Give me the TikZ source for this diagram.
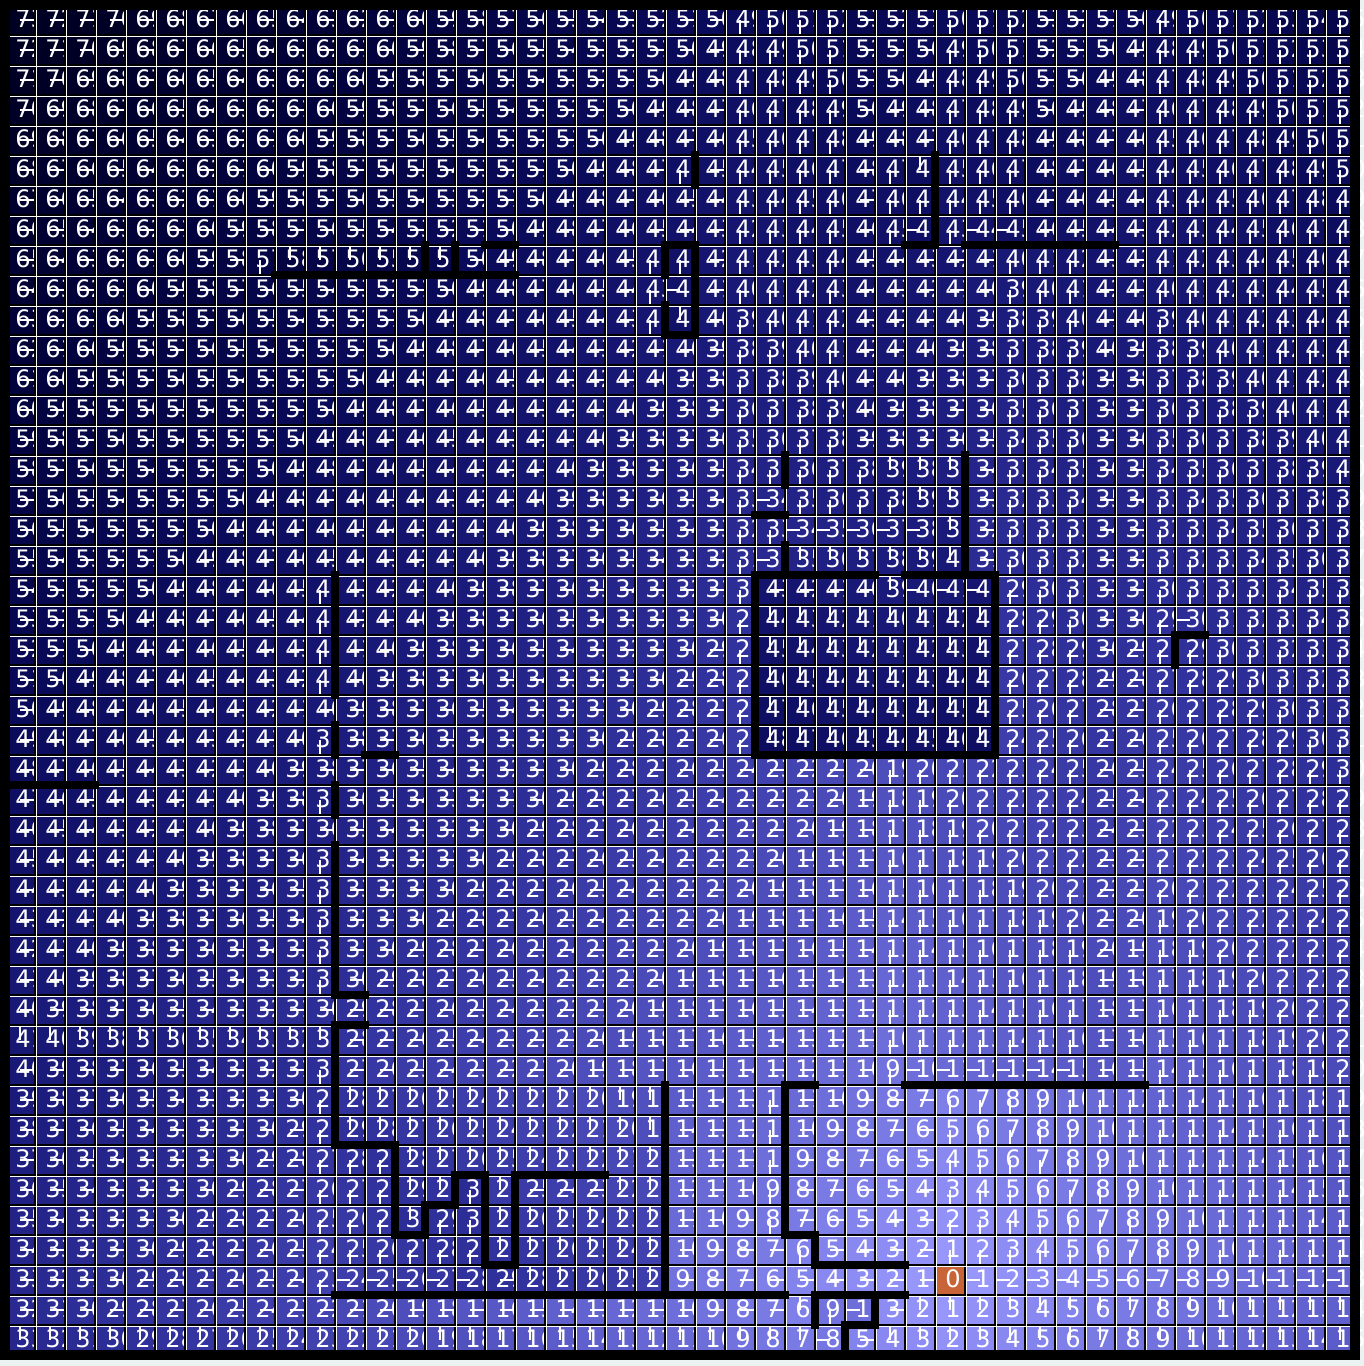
\documentclass[tikz,border=0pt]{standalone}
\usepackage{fontspec}
\setmainfont{DejaVu Sans}
\usepackage{tikz}
\usetikzlibrary{positioning}
\definecolor{goalOrange}{RGB}{200,100,56}
\definecolor{marginGray}{RGB}{236,241,242}
\definecolor{frameBlack}{RGB}{0,0,0}
\tikzset{
  numText/.style={text=white, inner sep=0pt, anchor=base west,
    font=\fontsize{13.7}{15}\selectfont},
  dirLine/.style={white, line width=1.1pt},
  gridLine/.style={frameBlack, line width=1.1pt},
  cellEdge/.style={white, line width=0.4pt},
  mazeWall/.style={frameBlack, line width=4.6pt, line cap=rect},
  outerFrame/.style={frameBlack, line width=5.7pt}
}

% grid walls: \hwall{row line}{from col}{to col}, \vwall{col line}{from row}{to row}
\newcount\wallidx
\def\hwall#1#2#3{\wallidx=#2\relax
  \loop\ifnum\wallidx<#3\relax
    \expandafter\def\csname wS-\the\numexpr#1-1\relax-\the\wallidx\endcsname{}%
    \expandafter\def\csname wN-#1-\the\wallidx\endcsname{}%
    \advance\wallidx by 1
  \repeat}
\def\vwall#1#2#3{\wallidx=#2\relax
  \loop\ifnum\wallidx<#3\relax
    \expandafter\def\csname wE-\the\wallidx-\the\numexpr#1-1\relax\endcsname{}%
    \expandafter\def\csname wW-\the\wallidx-#1\endcsname{}%
    \advance\wallidx by 1
  \repeat}
\def\mazewalls{%
  \hwall{9}{9}{17}\hwall{8}{16}{17}\vwall{14}{8}{9}\vwall{15}{8}{9}%
  \vwall{23}{5}{6}%
  \hwall{8}{22}{23}\hwall{11}{22}{23}\vwall{22}{8}{9}\vwall{22}{10}{11}\vwall{23}{8}{11}%
  \vwall{31}{5}{8}\hwall{8}{30}{31}\hwall{8}{32}{37}%
  \vwall{26}{15}{16}\hwall{17}{25}{26}\vwall{26}{18}{19}\vwall{32}{15}{19}%
  \hwall{19}{25}{29}\hwall{19}{30}{33}\vwall{25}{19}{25}\vwall{33}{19}{25}\hwall{25}{25}{33}%
  \hwall{21}{39}{40}\vwall{39}{21}{22}%
  \hwall{26}{0}{3}%
  \vwall{11}{19}{23}\vwall{11}{24}{25}\vwall{11}{26}{27}\vwall{11}{28}{33}\vwall{11}{34}{38}%
  \hwall{25}{12}{13}\hwall{33}{11}{12}\hwall{34}{11}{12}%
  \hwall{38}{11}{13}\vwall{13}{38}{41}\hwall{41}{13}{14}\vwall{14}{40}{41}\hwall{40}{14}{15}%
  \vwall{15}{39}{40}\hwall{39}{15}{16}\vwall{16}{39}{42}\hwall{42}{16}{17}\vwall{17}{39}{42}%
  \hwall{39}{17}{20}%
  \hwall{43}{11}{26}\vwall{22}{36}{43}%
  \hwall{36}{26}{27}\vwall{26}{36}{41}\hwall{41}{26}{27}\vwall{27}{41}{42}\hwall{42}{27}{30}%
  \hwall{43}{27}{30}\vwall{27}{43}{44}\vwall{29}{43}{44}\hwall{44}{28}{29}\vwall{28}{44}{45}%
  \hwall{36}{30}{38}%
}
\mazewalls

% breadth first search from the goal cell (row 42, col 31)
\newcount\qhead \newcount\qtail
\def\trystep#1#2#3#4#5{%
  \ifcsname w#3-#1-#2\endcsname\else
    \edef\nbr{\the\numexpr#1+#4\relax}%
    \edef\nbc{\the\numexpr#2+#5\relax}%
    \ifnum\nbr<0 \else\ifnum\nbr>44 \else\ifnum\nbc<0 \else\ifnum\nbc>44 \else
      \ifcsname d-\nbr-\nbc\endcsname\else
        \expandafter\edef\csname d-\nbr-\nbc\endcsname{\the\numexpr\curd+1\relax}%
        \expandafter\edef\csname px-\nbr-\nbc\endcsname{\the\numexpr0-15*(#5)\relax}%
        \expandafter\edef\csname py-\nbr-\nbc\endcsname{\the\numexpr0-15*(#4)\relax}%
        \expandafter\edef\csname q\the\qtail\endcsname{{\nbr}{\nbc}}%
        \advance\qtail by 1
      \fi
    \fi\fi\fi\fi
  \fi}
\def\bfsvisit#1#2{%
  \edef\curd{\csname d-#1-#2\endcsname}%
  \trystep{#1}{#2}{E}{0}{1}%
  \trystep{#1}{#2}{N}{-1}{0}%
  \trystep{#1}{#2}{W}{0}{-1}%
  \trystep{#1}{#2}{S}{1}{0}}
\expandafter\def\csname d-42-31\endcsname{0}
\expandafter\def\csname q0\endcsname{{42}{31}}
\qhead=0 \qtail=1
\loop\ifnum\qhead<\qtail
  \expandafter\expandafter\expandafter\bfsvisit\csname q\the\qhead\endcsname
  \advance\qhead by 1
\repeat

\begin{document}
\begin{tikzpicture}[x=0.02cm, y=-0.02cm]
  \useasboundingbox (0,0) rectangle (1364,1366);
  \fill[marginGray] (0,0) rectangle (1364,1366);
  % cells: shade, distance and pointer to the parent cell
  \foreach \ri in {0,...,44}{
    \foreach \ci in {0,...,44}{
      \ifcsname d-\ri-\ci\endcsname
        \edef\dval{\csname d-\ri-\ci\endcsname}\else\def\dval{99}\fi
      \ifnum\dval=0
        \colorlet{cellFill}{goalOrange}
      \else
        \pgfmathsetmacro\lev{max(0.001,1-\dval/73)}
        \pgfmathtruncatemacro\chR{155*\lev^2.3}
        \pgfmathtruncatemacro\chB{35+220*\lev^1.2}
        \definecolor{cellFill}{RGB}{\chR,\chR,\chB}
      \fi
      \fill[cellFill] (30*\ci+5, 30*\ri+5) rectangle (30*\ci+35, 30*\ri+35);
      \node[numText] (num-\ri-\ci) at (30*\ci+15, 30*\ri+27) {\dval};
      \ifcsname px-\ri-\ci\endcsname
        \edef\pdx{\csname px-\ri-\ci\endcsname}
        \edef\pdy{\csname py-\ri-\ci\endcsname}
        \draw[dirLine] (30*\ci+20, 30*\ri+20) -- ++(\pdx,\pdy);
      \fi
    }
  }
  % cell borders: dark line with a thin light edge on the top and left of every cell
  \draw[gridLine] \foreach \k in {1,...,44}{
    (30*\k+5, 5) -- (30*\k+5, 1355) (5, 30*\k+5) -- (1355, 30*\k+5)};
  \draw[cellEdge] \foreach \k in {0,...,44}{
    (30*\k+6.5, 5) -- (30*\k+6.5, 1355) (5, 30*\k+6.5) -- (1355, 30*\k+6.5)};
  % walls
  \def\hwall#1#2#3{\draw[mazeWall] (30*#2+5,30*#1+5) -- (30*#3+5,30*#1+5);}
  \def\vwall#1#2#3{\draw[mazeWall] (30*#1+5,30*#2+5) -- (30*#1+5,30*#3+5);}
  \mazewalls
  \draw[outerFrame] (5,5) rectangle (1355,1355);
\end{tikzpicture}
\end{document}
